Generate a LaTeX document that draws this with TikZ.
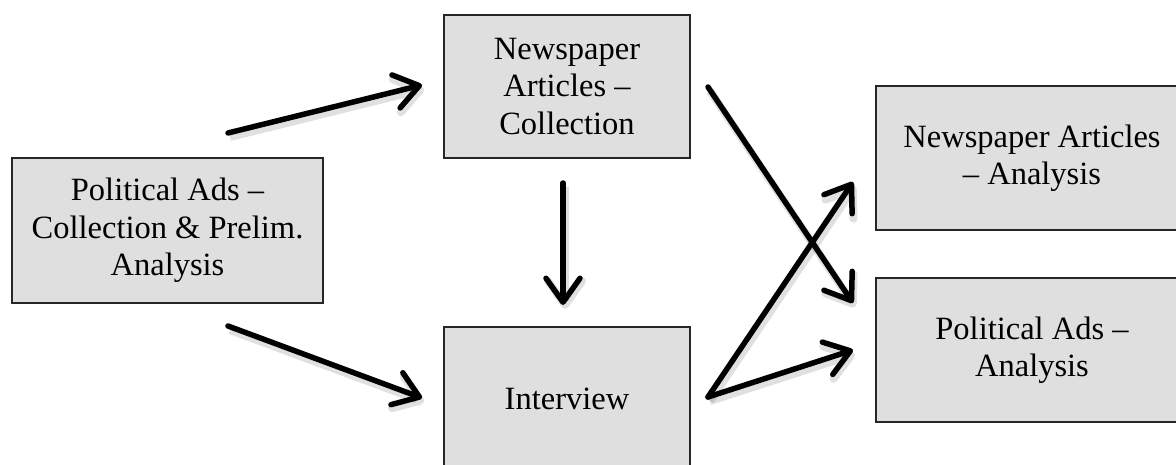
\documentclass[tikz,border=0pt]{standalone}
\usepackage{fontspec}
\setmainfont{Liberation Serif}
\usetikzlibrary{arrows.meta}
\definecolor{boxgray}{HTML}{DFDFDF}
\begin{document}
\begin{tikzpicture}[x=1pt, y=-1pt]
		\tikzset{bx/.style={rectangle, draw=black!85, line width=1.8pt, fill=boxgray, align=center, inner sep=0pt, font=\fontsize{32.5}{37.5}\selectfont}};
		\tikzset{arr/.style={line width=5.5pt, line cap=round, -{Straight Barb[length=24pt, width=34pt, round]},
			preaction={draw=black, opacity=0.12, line width=8pt, transform canvas={shift={(2pt,-4pt)}}}}};
		\useasboundingbox (0, 0) rectangle (1176, 465);
		\clip (0, 0) rectangle (1176, 465);

		\node[bx, minimum width=311pt, minimum height=145pt] (pcol) at (167.5, 230.5) {Political Ads \textendash\\Collection \& Prelim.\\Analysis};
		\node[bx, minimum width=246pt, minimum height=143pt] (ncol) at (567, 86.5) {Newspaper\\Articles \textendash\\Collection};
		\node[bx, minimum width=246pt, minimum height=143pt] (intv) at (567, 398.5) {Interview};
		\node[bx, minimum width=312pt, minimum height=144pt] (nana) at (1032, 158) {Newspaper Articles\\\textendash{} Analysis};
		\node[bx, minimum width=312pt, minimum height=144pt] (pana) at (1032, 350) {Political Ads \textendash\\Analysis};

		\coordinate (p1) at (228, 133);
		\coordinate (p2) at (228, 326);
		\coordinate (n1) at (422, 85);
		\coordinate (i1) at (422, 398);
		\coordinate (d1) at (563, 183);
		\coordinate (d2) at (563, 305);
		\coordinate (c1) at (708, 87);
		\coordinate (c2) at (853, 303);
		\coordinate (v1) at (708, 397);
		\coordinate (a1) at (853, 182);
		\coordinate (a2) at (853, 350);

		\draw[arr] (p1) -- (n1);
		\draw[arr] (p2) -- (i1);
		\draw[arr] (d1) -- (d2);
		\draw[arr] (c1) -- (c2);
		\draw[arr] (v1) -- (a1);
		\draw[arr] (v1) -- (a2);

	\end{tikzpicture}
\end{document}
